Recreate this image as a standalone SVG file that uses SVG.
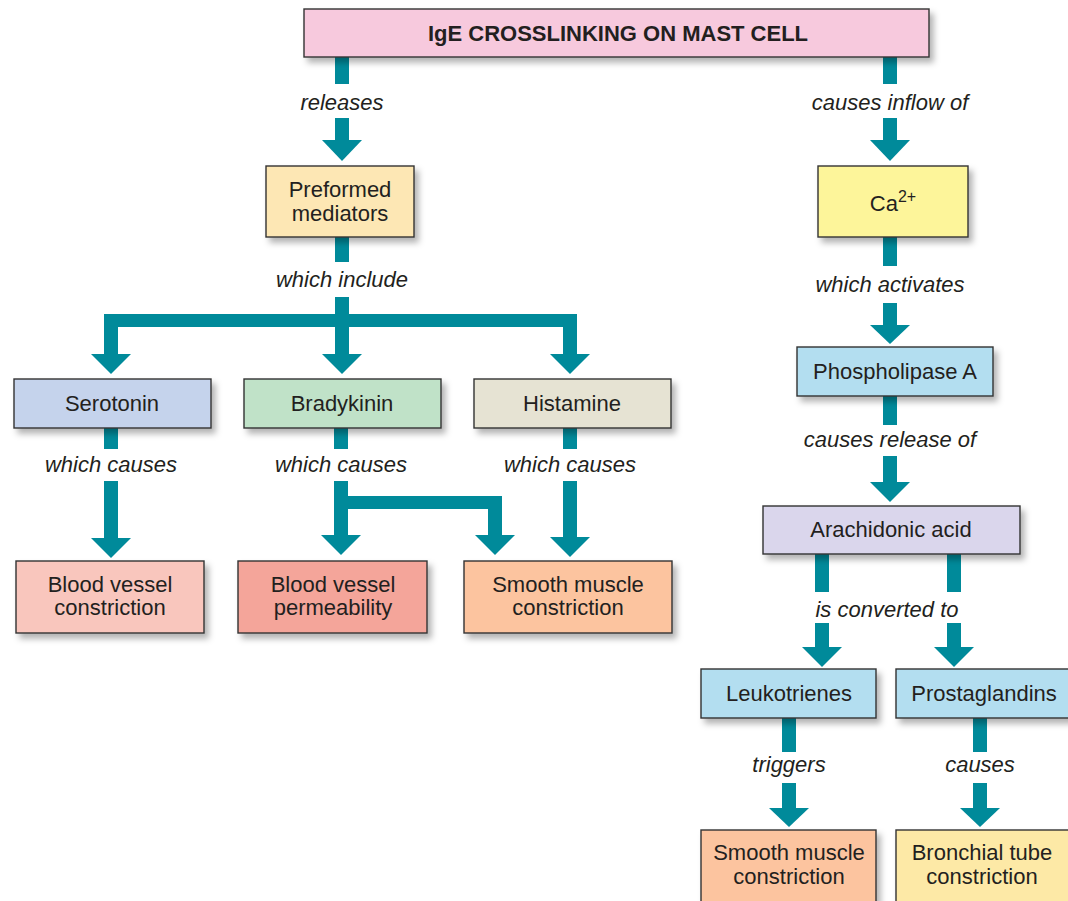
<svg xmlns="http://www.w3.org/2000/svg" width="1068" height="901" viewBox="0 0 1068 901">
<defs>
<filter id="sh" x="-10%" y="-20%" width="130%" height="160%">
<feDropShadow dx="4" dy="5" stdDeviation="3" flood-color="#000" flood-opacity="0.3"/>
</filter>
<style>
.box{stroke:#333;stroke-width:1.4;filter:url(#sh)}
.t{font-family:"Liberation Sans",Arial,sans-serif;font-size:22px;fill:#231f20;text-anchor:middle}
.tb{font-weight:bold;font-size:22px}
.lab{font-family:"Liberation Sans",Arial,sans-serif;font-size:22px;font-style:italic;fill:#231f20;text-anchor:middle}
.a{fill:#008a9a}
</style>
</defs>
<rect width="1068" height="901" fill="#fff"/>

<g id="connectors">
<rect class="a" x="335" y="57" width="14" height="27"/>
<rect class="a" x="335" y="118" width="14" height="23"/>
<polygon class="a" points="322,140 362,140 342,161"/>
<rect class="a" x="883" y="57" width="14" height="27"/>
<rect class="a" x="883" y="118" width="14" height="23"/>
<polygon class="a" points="870,140 910,140 890,161"/>
<rect class="a" x="335" y="237" width="14" height="25"/>
<rect class="a" x="335" y="297" width="14" height="58"/>
<rect class="a" x="104" y="314" width="473" height="13"/>
<rect class="a" x="104" y="314" width="14" height="41"/>
<rect class="a" x="563" y="314" width="14" height="41"/>
<polygon class="a" points="91,354 131,354 111,374"/>
<polygon class="a" points="322,354 362,354 342,374"/>
<polygon class="a" points="550,354 590,354 570,374"/>
<rect class="a" x="104" y="428" width="14" height="21"/>
<rect class="a" x="104" y="481" width="14" height="58"/>
<polygon class="a" points="91,538 131,538 111,558"/>
<rect class="a" x="334" y="428" width="14" height="21"/>
<rect class="a" x="334" y="481" width="14" height="55"/>
<rect class="a" x="334" y="496" width="168" height="13"/>
<rect class="a" x="488" y="496" width="14" height="40"/>
<polygon class="a" points="321,535 361,535 341,555"/>
<polygon class="a" points="475,535 515,535 495,555"/>
<rect class="a" x="563" y="428" width="14" height="21"/>
<rect class="a" x="563" y="481" width="14" height="57"/>
<polygon class="a" points="550,537 590,537 570,557"/>
<rect class="a" x="883" y="237" width="14" height="29"/>
<rect class="a" x="883" y="303" width="14" height="23"/>
<polygon class="a" points="870,325 910,325 890,344"/>
<rect class="a" x="883" y="396" width="14" height="29"/>
<rect class="a" x="883" y="456" width="14" height="27"/>
<polygon class="a" points="870,482 910,482 890,502"/>
<rect class="a" x="815" y="554" width="14" height="38"/>
<rect class="a" x="947" y="554" width="14" height="38"/>
<rect class="a" x="815" y="623" width="14" height="25"/>
<rect class="a" x="947" y="623" width="14" height="25"/>
<polygon class="a" points="802,647 842,647 822,667"/>
<polygon class="a" points="934,647 974,647 954,667"/>
<rect class="a" x="782" y="718" width="14" height="34"/>
<rect class="a" x="782" y="783" width="14" height="26"/>
<polygon class="a" points="769,808 809,808 789,827"/>
<rect class="a" x="973" y="718" width="14" height="34"/>
<rect class="a" x="973" y="783" width="14" height="26"/>
<polygon class="a" points="960,808 1000,808 980,827"/>

<text class="lab" x="342" y="110">releases</text>
<text class="lab" x="890" y="110">causes inflow of</text>
<text class="lab" x="342" y="287">which include</text>
<text class="lab" x="890" y="292">which activates</text>
<text class="lab" x="111" y="472">which causes</text>
<text class="lab" x="341" y="472">which causes</text>
<text class="lab" x="570" y="472">which causes</text>
<text class="lab" x="890" y="447">causes release of</text>
<text class="lab" x="887" y="617">is converted to</text>
<text class="lab" x="789" y="772">triggers</text>
<text class="lab" x="980" y="772">causes</text>
</g>

<g id="n-ige">
<rect class="box" x="304" y="9" width="625" height="48" fill="#f7c9dd"/>
<text class="t tb" x="618" y="41">IgE CROSSLINKING ON MAST CELL</text>
</g>
<g id="n-preformed">
<rect class="box" x="266" y="166" width="148" height="71" fill="#fde7b4"/>
<text class="t" x="340" y="197">Preformed</text>
<text class="t" x="340" y="221">mediators</text>
</g>
<g id="n-ca">
<rect class="box" x="818" y="166" width="150" height="71" fill="#fdf59a"/>
<text class="t" x="893" y="211">Ca<tspan font-size="16" dy="-9">2+</tspan></text>
</g>
<g id="n-serotonin">
<rect class="box" x="14" y="379" width="197" height="49" fill="#c5d3ec"/>
<text class="t" x="112" y="411">Serotonin</text>
</g>
<g id="n-bradykinin">
<rect class="box" x="244" y="379" width="197" height="49" fill="#c0e2c8"/>
<text class="t" x="342" y="411">Bradykinin</text>
</g>
<g id="n-histamine">
<rect class="box" x="474" y="379" width="197" height="49" fill="#e6e3d3"/>
<text class="t" x="572" y="411">Histamine</text>
</g>
<g id="n-bvc">
<rect class="box" x="16" y="561" width="188" height="72" fill="#f9c6bd"/>
<text class="t" x="110" y="592">Blood vessel</text>
<text class="t" x="110" y="615">constriction</text>
</g>
<g id="n-bvp">
<rect class="box" x="238" y="561" width="189" height="72" fill="#f4a59a"/>
<text class="t" x="333" y="592">Blood vessel</text>
<text class="t" x="333" y="615">permeability</text>
</g>
<g id="n-smc1">
<rect class="box" x="464" y="561" width="208" height="72" fill="#fcc49f"/>
<text class="t" x="568" y="592">Smooth muscle</text>
<text class="t" x="568" y="615">constriction</text>
</g>
<g id="n-phospholipase">
<rect class="box" x="797" y="347" width="196" height="49" fill="#b3def0"/>
<text class="t" x="895" y="379">Phospholipase A</text>
</g>
<g id="n-arachidonic">
<rect class="box" x="763" y="506" width="257" height="48" fill="#dad6ec"/>
<text class="t" x="891" y="537">Arachidonic acid</text>
</g>
<g id="n-leukotrienes">
<rect class="box" x="701" y="669" width="175" height="49" fill="#b3def0"/>
<text class="t" x="789" y="701">Leukotrienes</text>
</g>
<g id="n-prostaglandins">
<rect class="box" x="896" y="669" width="176" height="49" fill="#b3def0"/>
<text class="t" x="984" y="701">Prostaglandins</text>
</g>
<g id="n-smc2">
<rect class="box" x="701" y="830" width="175" height="80" fill="#fcc49f"/>
<text class="t" x="789" y="860">Smooth muscle</text>
<text class="t" x="789" y="884">constriction</text>
</g>
<g id="n-bronchial">
<rect class="box" x="896" y="830" width="176" height="80" fill="#fde9a6"/>
<text class="t" x="982" y="860">Bronchial tube</text>
<text class="t" x="982" y="884">constriction</text>
</g>
</svg>
